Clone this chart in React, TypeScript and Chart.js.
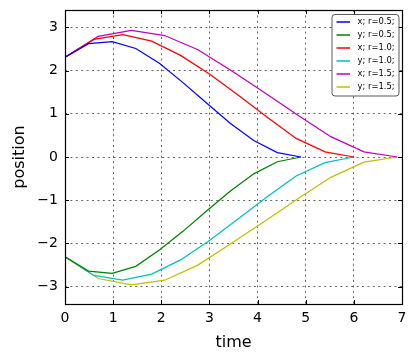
import React, { useEffect, useRef } from 'react';
import { Chart, registerables } from 'chart.js';
Chart.register(...registerables);

const times05 = [0, 0.49, 0.98, 1.47, 1.96, 2.45, 2.94, 3.43, 3.92, 4.41, 4.9];
const times10 = [0, 0.6, 1.2, 1.8, 2.4, 3.0, 3.6, 4.2, 4.8, 5.4, 6.0];
const times15 = [0, 0.69, 1.38, 2.07, 2.76, 3.45, 4.14, 4.83, 5.52, 6.21, 6.9];

const x05 = [2.31, 2.62, 2.67, 2.51, 2.17, 1.72, 1.25, 0.78, 0.38, 0.1, 0.0];
const y05 = [-2.31, -2.64, -2.69, -2.53, -2.15, -1.72, -1.25, -0.79, -0.39, -0.11, 0.0];
const x10 = [2.31, 2.72, 2.83, 2.68, 2.35, 1.92, 1.43, 0.92, 0.43, 0.12, 0.0];
const y10 = [-2.31, -2.74, -2.85, -2.71, -2.38, -1.93, -1.43, -0.92, -0.44, -0.13, 0.0];
const x15 = [2.31, 2.79, 2.93, 2.81, 2.48, 2.0, 1.49, 0.97, 0.47, 0.12, 0.0];
const y15 = [-2.31, -2.81, -2.96, -2.85, -2.5, -2.0, -1.49, -0.97, -0.47, -0.12, 0.0];

const seriesLabels = ['x; r=0.5;', 'y; r=0.5;', 'x; r=1.0;', 'y; r=1.0;', 'x; r=1.5;', 'y; r=1.5;'];
const seriesColors = ['#0000ff', '#008000', '#ff0000', '#00bfbf', '#bf00bf', '#bfbf00'];
const seriesTimes = [times05, times05, times10, times10, times15, times15];
const seriesValues = [x05, y05, x10, y10, x15, y15];

const xTicks = [0, 1, 2, 3, 4, 5, 6, 7];
const yTicks = [-3, -2, -1, 0, 1, 2, 3];

const FONT = '"DejaVu Sans", sans-serif';

const framePlugin = {
  id: 'framePlugin',
  afterDraw(chart: any) {
    const { ctx, chartArea: a, scales } = chart;
    ctx.save();
    ctx.strokeStyle = '#000';
    ctx.lineWidth = 1;
    ctx.beginPath();
    xTicks.forEach((v) => {
      const px = Math.round(scales.x.getPixelForValue(v)) + 0.5;
      ctx.moveTo(px, a.bottom);
      ctx.lineTo(px, a.bottom - 4);
      ctx.moveTo(px, a.top);
      ctx.lineTo(px, a.top + 4);
    });
    yTicks.forEach((v) => {
      const py = Math.round(scales.y.getPixelForValue(v)) + 0.5;
      ctx.moveTo(a.left, py);
      ctx.lineTo(a.left + 4, py);
      ctx.moveTo(a.right, py);
      ctx.lineTo(a.right - 4, py);
    });
    ctx.stroke();
    ctx.lineWidth = 1.2;
    ctx.strokeRect(Math.round(a.left) + 0.5, Math.round(a.top) + 0.5, Math.round(a.right - a.left), Math.round(a.bottom - a.top));

    // legend
    const bx = a.right - 70;
    const by = a.top + 4.5;
    const bw = 67;
    const bh = 81.5;
    const r = 3;
    ctx.beginPath();
    ctx.moveTo(bx + r, by);
    ctx.lineTo(bx + bw - r, by);
    ctx.arcTo(bx + bw, by, bx + bw, by + r, r);
    ctx.lineTo(bx + bw, by + bh - r);
    ctx.arcTo(bx + bw, by + bh, bx + bw - r, by + bh, r);
    ctx.lineTo(bx + r, by + bh);
    ctx.arcTo(bx, by + bh, bx, by + bh - r, r);
    ctx.lineTo(bx, by + r);
    ctx.arcTo(bx, by, bx + r, by, r);
    ctx.closePath();
    ctx.fillStyle = '#fff';
    ctx.fill();
    ctx.lineWidth = 1;
    ctx.strokeStyle = 'rgba(0,0,0,0.65)';
    ctx.stroke();
    ctx.font = '8.4px ' + FONT;
    ctx.textBaseline = 'middle';
    ctx.textAlign = 'left';
    seriesLabels.forEach((lab, i) => {
      const yy = by + 7.8 + i * 13;
      ctx.strokeStyle = seriesColors[i];
      ctx.lineWidth = 1.5;
      ctx.beginPath();
      ctx.moveTo(bx + 4.5, Math.round(yy));
      ctx.lineTo(bx + 18, Math.round(yy));
      ctx.stroke();
      ctx.fillStyle = '#000';
      ctx.fillText(lab, bx + 25.5, yy);
    });
    ctx.restore();
  },
};

const zeroPad = (s: any) => {
  s.paddingTop = 0;
  s.paddingBottom = 0;
  s.paddingLeft = 0;
  s.paddingRight = 0;
};

export default function App() {
  const ref = useRef<HTMLCanvasElement>(null);
  useEffect(() => {
    document.body.style.margin = '0';
    const datasets = seriesLabels.map((lab, i) => ({
      label: lab,
      data: seriesTimes[i].map((t, j) => ({ x: t, y: seriesValues[i][j] })),
      borderColor: seriesColors[i],
      backgroundColor: seriesColors[i],
      borderWidth: 1.25,
      pointRadius: 0,
      tension: 0,
      fill: false,
    }));
    const chart = new Chart(ref.current!, {
      type: 'line',
      data: { datasets },
      options: {
        responsive: false,
        animation: false,
        devicePixelRatio: 1,
        layout: { padding: { left: 0, right: 15, top: 10, bottom: 0 } },
        plugins: { legend: { display: false }, tooltip: { enabled: false } },
        scales: {
          x: {
            type: 'linear',
            min: 0,
            max: 7,
            afterBuildTicks: (s: any) => { s.ticks = xTicks.map((v) => ({ value: v })); },
            afterFit: (s: any) => { s.height = 58; zeroPad(s); },
            border: { display: false, dash: [2, 3.4] },
            grid: { color: 'rgba(0,0,0,0.6)', lineWidth: 1, drawTicks: false },
            ticks: { color: '#000', font: { family: FONT, size: 14 }, padding: 6, maxRotation: 0,
              callback: (v: any) => String(v).replace('-', '\u2212') },
            title: { display: true, text: 'time', color: '#000', font: { family: FONT, size: 16 }, padding: { top: 0, bottom: 10 } },
          },
          y: {
            type: 'linear',
            min: -3.4,
            max: 3.4,
            afterBuildTicks: (s: any) => { s.ticks = yTicks.map((v) => ({ value: v })); },
            afterFit: (s: any) => { s.width = 65; zeroPad(s); },
            border: { display: false, dash: [2, 3.4] },
            grid: { color: 'rgba(0,0,0,0.6)', lineWidth: 1, drawTicks: false },
            ticks: { color: '#000', font: { family: FONT, size: 14 }, padding: 7,
              callback: (v: any) => String(v).replace('-', '\u2212') },
            title: { display: true, text: 'position', color: '#000', font: { family: FONT, size: 16 }, padding: { top: 10, bottom: 0 } },
          },
        },
      },
      plugins: [framePlugin],
    } as any);
    return () => chart.destroy();
  }, []);
  return (
    <div style={{ position: 'absolute', left: 0, top: 0, width: 417, height: 362, background: '#fff' }}>
      <canvas ref={ref} width={417} height={362} style={{ width: 417, height: 362, display: 'block' }} />
    </div>
  );
}
